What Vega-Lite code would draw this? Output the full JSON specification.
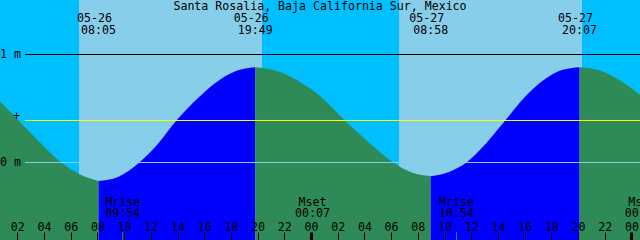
{
  "$schema": "https://vega.github.io/schema/vega-lite/v6.json",
  "width": 640,
  "height": 240,
  "padding": 0,
  "autosize": {"type": "none"},
  "background": "#00BFFF",
  "config": {"view": {"stroke": null}},
  "resolve": {"scale": {"color": "independent"}},
  "layer": [
    {
      "data": {"values": [
        {"t": 0.704, "t2": 6.622, "period": "night"},
        {"t": 6.622, "t2": 20.33, "period": "day"},
        {"t": 20.33, "t2": 30.592, "period": "night"},
        {"t": 30.592, "t2": 44.3, "period": "day"},
        {"t": 44.3, "t2": 48.644, "period": "night"}
      ]},
      "mark": {"type": "rect"},
      "encoding": {
        "x": {"field": "t", "type": "quantitative", "scale": {"domain": [0.704, 48.644], "nice": false, "zero": false},
          "axis": {"orient": "top", "offset": -240, "values": [2,4,6,8,10,12,14,16,18,20,22,24,26,28,30,32,34,36,38,40,42,44,46,48], "tickCount": 100, "labelExpr": "(datum.value % 24 < 10 ? '0' : '') + (datum.value % 24)", "title": null, "domain": false, "grid": false, "ticks": true, "tickSize": 8, "tickColor": "black", "tickWidth": {"condition": {"test": "datum.value % 24 === 0", "value": 3}, "value": 1}, "labelColor": "black", "labelFont": "DejaVu Sans Mono", "labelFontSize": 11.6, "labelPadding": 2, "labelBaseline": "alphabetic", "labelFlush": false, "labelOverlap": false, "labelBound": false, "zindex": 1}},
        "x2": {"field": "t2"},
        "y": {"datum": 1.50463, "type": "quantitative", "scale": {"domain": [-0.71759, 1.50463], "nice": false, "zero": false}, "axis": null},
        "y2": {"datum": -0.71759},
        "color": {"field": "period", "type": "nominal", "scale": {"domain": ["day", "night"], "range": ["#87CEEB", "#00BFFF"]}, "legend": null}
      }
    },
    {
      "data": {"values": [
        {"t": 0.704, "m": 0.565, "phase": "ebb", "seg": 1},
        {"t": 2.202, "m": 0.375, "phase": "ebb", "seg": 1},
        {"t": 3.7, "m": 0.185, "phase": "ebb", "seg": 1},
        {"t": 5.198, "m": 0.009, "phase": "ebb", "seg": 1},
        {"t": 6.622, "m": -0.106, "phase": "ebb", "seg": 1},
        {"t": 8.083, "m": -0.171, "phase": "ebb", "seg": 1},
        {"t": 8.083, "m": -0.171, "phase": "flood", "seg": 2},
        {"t": 9.543, "m": -0.134, "phase": "flood", "seg": 2},
        {"t": 11.004, "m": -0.014, "phase": "flood", "seg": 2},
        {"t": 12.464, "m": 0.162, "phase": "flood", "seg": 2},
        {"t": 13.888, "m": 0.384, "phase": "flood", "seg": 2},
        {"t": 15.423, "m": 0.583, "phase": "flood", "seg": 2},
        {"t": 16.884, "m": 0.741, "phase": "flood", "seg": 2},
        {"t": 18.382, "m": 0.847, "phase": "flood", "seg": 2},
        {"t": 19.817, "m": 0.882, "phase": "flood", "seg": 2},
        {"t": 19.817, "m": 0.882, "phase": "ebb", "seg": 3},
        {"t": 21.453, "m": 0.847, "phase": "ebb", "seg": 3},
        {"t": 23.101, "m": 0.75, "phase": "ebb", "seg": 3},
        {"t": 24.674, "m": 0.616, "phase": "ebb", "seg": 3},
        {"t": 26.547, "m": 0.386, "phase": "ebb", "seg": 3},
        {"t": 28.419, "m": 0.176, "phase": "ebb", "seg": 3},
        {"t": 30.142, "m": 0.0, "phase": "ebb", "seg": 3},
        {"t": 31.565, "m": -0.093, "phase": "ebb", "seg": 3},
        {"t": 32.967, "m": -0.127, "phase": "ebb", "seg": 3},
        {"t": 32.967, "m": -0.127, "phase": "flood", "seg": 4},
        {"t": 34.337, "m": -0.088, "phase": "flood", "seg": 4},
        {"t": 35.685, "m": 0.005, "phase": "flood", "seg": 4},
        {"t": 37.108, "m": 0.176, "phase": "flood", "seg": 4},
        {"t": 38.532, "m": 0.386, "phase": "flood", "seg": 4},
        {"t": 39.955, "m": 0.597, "phase": "flood", "seg": 4},
        {"t": 41.378, "m": 0.759, "phase": "flood", "seg": 4},
        {"t": 42.801, "m": 0.856, "phase": "flood", "seg": 4},
        {"t": 44.117, "m": 0.882, "phase": "flood", "seg": 4},
        {"t": 44.117, "m": 0.882, "phase": "ebb", "seg": 5},
        {"t": 45.648, "m": 0.852, "phase": "ebb", "seg": 5},
        {"t": 47.146, "m": 0.759, "phase": "ebb", "seg": 5},
        {"t": 48.644, "m": 0.627, "phase": "ebb", "seg": 5}
      ]},
      "mark": {"type": "area", "interpolate": "monotone"},
      "encoding": {
        "x": {"field": "t", "type": "quantitative", "scale": {"domain": [0.704, 48.644], "nice": false, "zero": false}},
        "y": {"field": "m", "type": "quantitative", "scale": {"domain": [-0.71759, 1.50463], "nice": false, "zero": false}, "axis": null},
        "y2": {"datum": -0.71759},
        "detail": {"field": "seg", "type": "nominal"},
        "color": {"field": "phase", "type": "nominal", "scale": {"domain": ["flood", "ebb"], "range": ["#0000FF", "#2E8B57"]}, "legend": null}
      }
    },
    {
      "data": {"values": [
        {"t": 9.9, "ev": "Mrise", "time": "09:54"},
        {"t": 24.117, "ev": "Mset", "time": "00:07"},
        {"t": 34.9, "ev": "Mrise", "time": "10:54"},
        {"t": 48.817, "ev": "Mset", "time": "00:49"}
      ]},
      "layer": [
        {
          "mark": {"type": "rule", "color": "#2E8B57", "strokeWidth": 1},
          "encoding": {
            "x": {"field": "t", "type": "quantitative", "scale": {"domain": [0.704, 48.644], "nice": false, "zero": false}},
            "y": {"datum": -0.6435, "type": "quantitative", "scale": {"domain": [-0.71759, 1.50463], "nice": false, "zero": false}, "axis": null},
            "y2": {"datum": -0.71759}
          }
        },
        {
          "mark": {"type": "text", "font": "DejaVu Sans Mono", "fontSize": 11.6, "color": "black", "align": "center", "baseline": "alphabetic"},
          "encoding": {
            "x": {"field": "t", "type": "quantitative", "scale": {"domain": [0.704, 48.644], "nice": false, "zero": false}},
            "y": {"datum": -0.4, "type": "quantitative", "scale": {"domain": [-0.71759, 1.50463], "nice": false, "zero": false}, "axis": null},
            "text": {"field": "ev"}
          }
        },
        {
          "mark": {"type": "text", "font": "DejaVu Sans Mono", "fontSize": 11.6, "color": "black", "align": "center", "baseline": "alphabetic"},
          "encoding": {
            "x": {"field": "t", "type": "quantitative", "scale": {"domain": [0.704, 48.644], "nice": false, "zero": false}},
            "y": {"datum": -0.5074, "type": "quantitative", "scale": {"domain": [-0.71759, 1.50463], "nice": false, "zero": false}, "axis": null},
            "text": {"field": "time"}
          }
        }
      ]
    },
    {
      "data": {"values": [{"level": "1 m"}]},
      "mark": {"type": "rule", "color": "black", "strokeWidth": 1},
      "encoding": {
        "x": {"datum": 2.577, "type": "quantitative", "scale": {"domain": [0.704, 48.644], "nice": false, "zero": false}},
        "x2": {"datum": 48.644},
        "y": {"datum": 1, "type": "quantitative", "scale": {"domain": [-0.71759, 1.50463], "nice": false, "zero": false}, "axis": null}
      }
    },
    {
      "data": {"values": [{"level": "0 m"}]},
      "mark": {"type": "rule", "color": "#87CEEB", "strokeWidth": 1},
      "encoding": {
        "x": {"datum": 2.577, "type": "quantitative", "scale": {"domain": [0.704, 48.644], "nice": false, "zero": false}},
        "x2": {"datum": 48.644},
        "y": {"datum": 0, "type": "quantitative", "scale": {"domain": [-0.71759, 1.50463], "nice": false, "zero": false}, "axis": null}
      }
    },
    {
      "data": {"values": [{"level": "mean"}]},
      "mark": {"type": "rule", "color": "#FFFF00", "strokeWidth": 1},
      "encoding": {
        "x": {"datum": 2.577, "type": "quantitative", "scale": {"domain": [0.704, 48.644], "nice": false, "zero": false}},
        "x2": {"datum": 48.644},
        "y": {"datum": 0.389, "type": "quantitative", "scale": {"domain": [-0.71759, 1.50463], "nice": false, "zero": false}, "axis": null}
      }
    },
    {
      "data": {"values": [{"m": 1, "label": "1 m"}, {"m": 0, "label": "0 m"}]},
      "mark": {"type": "text", "font": "DejaVu Sans Mono", "fontSize": 11.6, "color": "black", "align": "right", "baseline": "middle", "dx": -4},
      "encoding": {
        "x": {"datum": 2.577, "type": "quantitative", "scale": {"domain": [0.704, 48.644], "nice": false, "zero": false}},
        "y": {"field": "m", "type": "quantitative", "scale": {"domain": [-0.71759, 1.50463], "nice": false, "zero": false}, "axis": null},
        "text": {"field": "label"}
      }
    },
    {
      "data": {"values": [{"m": 0.389, "label": "+"}]},
      "mark": {"type": "text", "font": "DejaVu Sans Mono", "fontSize": 11.6, "color": "black", "align": "right", "baseline": "middle", "dx": -5, "dy": -3},
      "encoding": {
        "x": {"datum": 2.577, "type": "quantitative", "scale": {"domain": [0.704, 48.644], "nice": false, "zero": false}},
        "y": {"field": "m", "type": "quantitative", "scale": {"domain": [-0.71759, 1.50463], "nice": false, "zero": false}, "axis": null},
        "text": {"field": "label"}
      }
    },
    {
      "data": {"values": [{"t": 24.674, "label": "Santa Rosalia, Baja California Sur, Mexico"}]},
      "mark": {"type": "text", "font": "DejaVu Sans Mono", "fontSize": 11.6, "color": "black", "align": "center", "baseline": "alphabetic"},
      "encoding": {
        "x": {"field": "t", "type": "quantitative", "scale": {"domain": [0.704, 48.644], "nice": false, "zero": false}},
        "y": {"datum": 1.412, "type": "quantitative", "scale": {"domain": [-0.71759, 1.50463], "nice": false, "zero": false}, "axis": null},
        "text": {"field": "label"}
      }
    },
    {
      "data": {"values": [
        {"t": 8.083, "date": "05-26", "time": "08:05"},
        {"t": 19.817, "date": "05-26", "time": "19:49"},
        {"t": 32.967, "date": "05-27", "time": "08:58"},
        {"t": 44.117, "date": "05-27", "time": "20:07"}
      ]},
      "layer": [
        {
          "mark": {"type": "text", "font": "DejaVu Sans Mono", "fontSize": 11.6, "color": "black", "align": "center", "baseline": "alphabetic", "dx": -4},
          "encoding": {
            "x": {"field": "t", "type": "quantitative", "scale": {"domain": [0.704, 48.644], "nice": false, "zero": false}},
            "y": {"datum": 1.3037, "type": "quantitative", "scale": {"domain": [-0.71759, 1.50463], "nice": false, "zero": false}, "axis": null},
            "text": {"field": "date"}
          }
        },
        {
          "mark": {"type": "text", "font": "DejaVu Sans Mono", "fontSize": 11.6, "color": "black", "align": "center", "baseline": "alphabetic"},
          "encoding": {
            "x": {"field": "t", "type": "quantitative", "scale": {"domain": [0.704, 48.644], "nice": false, "zero": false}},
            "y": {"datum": 1.1926, "type": "quantitative", "scale": {"domain": [-0.71759, 1.50463], "nice": false, "zero": false}, "axis": null},
            "text": {"field": "time"}
          }
        }
      ]
    }
  ]
}
